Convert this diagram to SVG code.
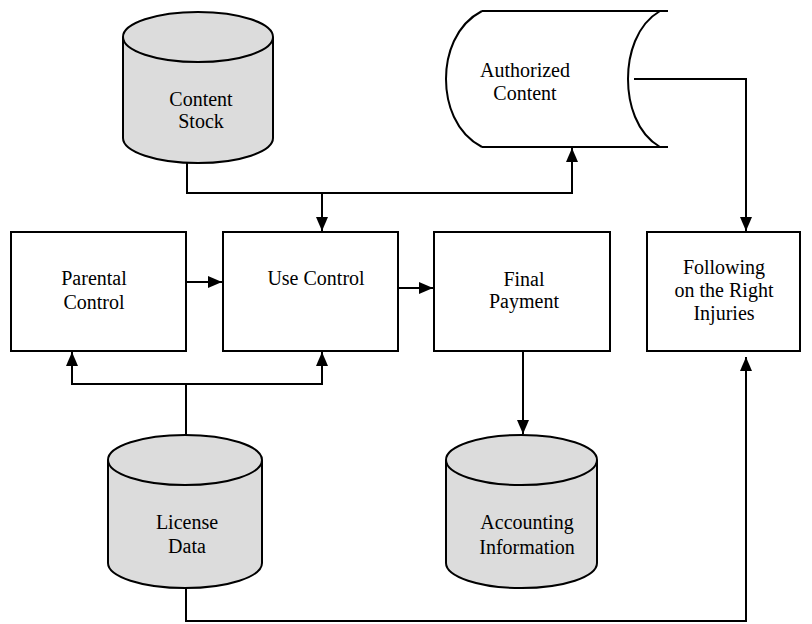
<svg xmlns="http://www.w3.org/2000/svg" width="812" height="624" viewBox="0 0 812 624">
<defs>
<style>
.box{fill:#fff;stroke:#000;stroke-width:2}
.cyl{fill:#dcdcdc;stroke:#000;stroke-width:2}
.ln{fill:none;stroke:#000;stroke-width:2}
.t{font-family:"Liberation Serif","Times New Roman",serif;font-size:20px;fill:#000;text-anchor:middle}
</style>
<marker id="ah" viewBox="0 0 14 12" refX="14" refY="6" markerWidth="14" markerHeight="12" markerUnits="userSpaceOnUse" orient="auto">
<path d="M0,0 L14,6 L0,12 Z" fill="#000"/>
</marker>
</defs>
<rect width="812" height="624" fill="#fff"/>
<g id="connectors">
<path class="ln" d="M187,163 L187,193 L572,193 L572,148" marker-end="url(#ah)"/>
<path class="ln" d="M322,193 L322,231" marker-end="url(#ah)"/>
<path class="ln" d="M186,282 L222,282" marker-end="url(#ah)"/>
<path class="ln" d="M398,288 L433,288" marker-end="url(#ah)"/>
<path class="ln" d="M523,351 L523,434" marker-end="url(#ah)"/>
<path class="ln" d="M634,79 L746,79 L746,231" marker-end="url(#ah)"/>
<path class="ln" d="M186,435 L186,384 L72,384 L72,352" marker-end="url(#ah)"/>
<path class="ln" d="M186,384 L322,384 L322,352" marker-end="url(#ah)"/>
<path class="ln" d="M186,588 L186,621 L746,621 L746,357" marker-end="url(#ah)"/>
</g>
<g id="content-stock">
<path class="cyl" d="M123,37 L123,138 A75,25 0 0 0 273,138 L273,37 A75,25 0 0 0 123,37 Z"/>
<path class="ln" d="M123,37 A75,25 0 0 0 273,37"/>
<text class="t" x="201" y="106">Content</text>
<text class="t" x="201" y="128">Stock</text>
</g>
<g id="authorized-content">
<path class="box" d="M482,11 L668,11 M482,147 L668,147 M482,11 C455,25 446,55 446,79 C446,103 455,133 482,147" style="fill:none"/>
<path class="ln" d="M660,11 C636,25 628,55 628,79 C628,103 636,133 660,147"/>
<text class="t" x="525" y="77">Authorized</text>
<text class="t" x="525" y="100">Content</text>
</g>
<g id="parental-control">
<rect class="box" x="11" y="232" width="175" height="119"/>
<text class="t" x="94" y="285">Parental</text>
<text class="t" x="94" y="309">Control</text>
</g>
<g id="use-control">
<rect class="box" x="223" y="232" width="175" height="119"/>
<text class="t" x="316" y="285">Use Control</text>
</g>
<g id="final-payment">
<rect class="box" x="434" y="232" width="176" height="119"/>
<text class="t" x="524" y="286">Final</text>
<text class="t" x="524" y="308">Payment</text>
</g>
<g id="following">
<rect class="box" x="647" y="232" width="153" height="119"/>
<text class="t" x="724" y="274">Following</text>
<text class="t" x="724" y="297">on the Right</text>
<text class="t" x="724" y="320">Injuries</text>
</g>
<g id="license-data">
<path class="cyl" d="M108,460 L108,563 A77,25 0 0 0 262,563 L262,460 A77,25 0 0 0 108,460 Z"/>
<path class="ln" d="M108,460 A77,25 0 0 0 262,460"/>
<text class="t" x="187" y="529">License</text>
<text class="t" x="187" y="553">Data</text>
</g>
<g id="accounting-information">
<path class="cyl" d="M446,460 L446,563 A75.5,25 0 0 0 597,563 L597,460 A75.5,25 0 0 0 446,460 Z"/>
<path class="ln" d="M446,460 A75.5,25 0 0 0 597,460"/>
<text class="t" x="527" y="529">Accounting</text>
<text class="t" x="527" y="554">Information</text>
</g>
</svg>
